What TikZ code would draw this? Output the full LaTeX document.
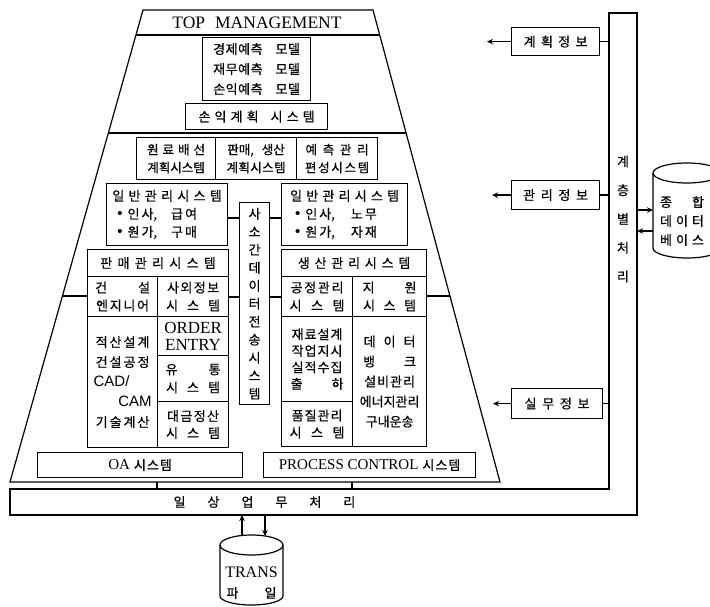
\documentclass[tikz,border=0pt]{standalone}
\usepackage{fontspec}
\setmainfont{Noto Sans CJK KR}[BoldFont=Noto Sans CJK KR, BoldFeatures={FakeBold=0.6}]
\newfontfamily\lat{Liberation Serif}
\newfontfamily\latsans{Liberation Sans}
\usetikzlibrary{arrows.meta,calc}
\newdimen\KRsp \KRsp=1pt
\newcommand\Ks[1]{\KRsp=#1pt\relax}
\newcommand\Bul{{\latsans\mdseries\fontsize{15}{15}\selectfont •}}
\XeTeXinterchartokenstate=1
\chardef\krclass=7
\newcount\KRcnt \KRcnt="AC00
\loop \XeTeXcharclass\KRcnt=\krclass \advance\KRcnt by 1 \ifnum\KRcnt<"D7A4 \repeat
\XeTeXinterchartoks\krclass\krclass={\hskip\KRsp\relax}
\tikzset{
  bxs/.style={draw, line width=1.2pt, inner sep=0pt, anchor=north west, align=center,
              font=\fontsize{13}{18}\selectfont\bfseries},
  ln/.style={line width=1.2pt},
  arr/.style={line width=1.2pt, -{Stealth[length=6pt,width=5.5pt]}},
}
\newcommand\bx[7][]{\node[bxs,minimum width={#5-#3},minimum height={#6-#4},#1] (#2) at (#3,#4) {#7};}
\begin{document}
\begin{tikzpicture}[x=1pt,y=-1pt]
\useasboundingbox (0,0) rectangle (710,607);
% trapezoid
\coordinate (TL) at (143,10);
\coordinate (TR) at (373,10);
\coordinate (BL) at (10,482);
\coordinate (BR) at (500,482);
\draw[ln] (TL) -- (TR) -- (BR) -- (BL) -- cycle;
\draw[ln] ($(TL)!{25/472}!(BL)$) -- ($(TR)!{25/472}!(BR)$);
\draw[ln] ($(TL)!{123/472}!(BL)$) -- ($(TR)!{123/472}!(BR)$);
\coordinate (L296) at ($(TL)!{286/472}!(BL)$);
\coordinate (R296) at ($(TR)!{286/472}!(BR)$);
\node[font=\lat\fontsize{17.5}{18}\selectfont] (top) at (257,23) {TOP\hspace{10pt}MANAGEMENT};
% boxes
\bx[font=\fontsize{13}{20}\selectfont\bfseries]{econ}{202}{37}{310}{100}{\Ks{0.5}경제예측\hspace{13pt}모델\\ \Ks{0.5}재무예측\hspace{13pt}모델\\ \Ks{0.5}손익예측\hspace{13pt}모델}
\bx{sonik}{185}{103}{327}{129}{\Ks{4.1}손익계획\hspace{12pt}시스템}
\bx[font=\fontsize{12.5}{18}\selectfont\bfseries]{ra}{136}{137}{215}{179}{\Ks{4}원료배선\\ \Ks{0}계획시스템}
\bx[font=\fontsize{12.5}{18}\selectfont\bfseries]{rb}{215}{137}{296}{179}{\Ks{0}판매,\hspace{8pt}생산\\ \Ks{0.4}계획시스템}
\bx[font=\fontsize{12.5}{18}\selectfont\bfseries]{rc}{296}{137}{377}{179}{\Ks{5.7}예측관리\\ \Ks{1.7}편성시스템}
\bx[align=left]{genL}{106}{183}{227}{245}{\Ks{4.3}일반관리시스템\\ \hspace*{5pt}\Bul\hspace{5pt}\Ks{2}인사,\hspace{14pt}급여\\ \hspace*{5pt}\Bul\hspace{5pt}\Ks{2}원가,\hspace{14pt}구매}
\bx[align=left]{genR}{281}{183}{407}{245}{\Ks{4.2}일반관리시스템\\ \hspace*{5pt}\Bul\hspace{5pt}\Ks{2}인사,\hspace{16pt}노무\\ \hspace*{5pt}\Bul\hspace{5pt}\Ks{2}원가,\hspace{16pt}자재}
\bx{vt}{239}{202}{269}{404}{사\\소\\간\\데\\이\\터\\전\\송\\시\\스\\템}
\bx{salesH}{87}{249}{228}{276}{\Ks{5.3}판매관리시스템}
\bx{prodH}{281}{249}{426}{276}{\Ks{4.8}생산관리시스템}
\bx{geon}{87}{276}{157}{316}{\Ks{31}건설\\ \Ks{1.7}엔지니어}
\bx[font=\fontsize{13}{20}\selectfont\bfseries]{jeok}{87}{316}{157}{447}{\Ks{2}적산설계\\ \Ks{2}건설공정\\ \makebox[58pt][l]{\latsans\mdseries\fontsize{15}{20}\selectfont CAD/}\\ \makebox[58pt][r]{\latsans\mdseries\fontsize{15}{20}\selectfont CAM}\\ \Ks{2}기술계산}
\bx{oi}{157}{276}{228}{316}{\Ks{1.4}사외정보\\ \Ks{9}시스템}
\bx[font=\lat\fontsize{17}{17}\selectfont]{order}{157}{316}{228}{355}{ORDER\\ENTRY}
\bx{yu}{157}{355}{228}{401}{\Ks{31}유통\\ \Ks{9}시스템}
\bx[font=\fontsize{13}{17}\selectfont\bfseries]{dg}{157}{401}{228}{447}{\Ks{1.4}대금정산\\ \Ks{9}시스템}
\bx{gj}{281}{276}{352}{316}{\Ks{1.7}공정관리\\ \Ks{9.5}시스템}
\bx{jw}{352}{276}{426}{316}{\Ks{30}지원\\ \Ks{8.5}시스템}
\bx[font=\fontsize{13}{16.5}\selectfont\bfseries]{jr}{281}{316}{352}{401}{\Ks{1}재료설계\\ \Ks{1}작업지시\\ \Ks{1}실적수집\\ \Ks{29}출하}
\bx[font=\fontsize{13}{17}\selectfont\bfseries]{pq}{281}{401}{352}{446}{\Ks{1}품질관리\\ \Ks{9.5}시스템}
\bx[font=\fontsize{13}{20}\selectfont\bfseries]{dbk}{352}{316}{426}{446}{\Ks{8}데이터\\ \Ks{29}뱅크\\ \Ks{1}설비관리\\ \Ks{0}에너지관리\\ \Ks{0}구내운송}
\bx{oa}{37}{452}{242}{477}{{\lat\mdseries\fontsize{15}{15}\selectfont OA\hspace{4pt}}\Ks{1}시스템}
\bx{pc}{263}{452}{475}{477}{{\lat\mdseries\fontsize{15}{15}\selectfont PROCESS CONTROL\hspace{4pt}}\Ks{1}시스템}
% inner connectors
\coordinate (c1) at (0,218);
\coordinate (c2) at (0,297);
\draw[ln] (genL.east|-c1) -- (vt.west|-c1);
\draw[ln] (vt.east|-c1) -- (genR.west|-c1);
\draw[ln] (oi.east|-c2) -- (vt.west|-c2);
\draw[ln] (vt.east|-c2) -- (gj.west|-c2);
\draw[ln] (L296) -- (L296 -| geon.west);
\draw[ln] (R296) -- (R296 -| jw.east);
% L-shaped bar
\coordinate (vL) at (609,13);
\coordinate (vR) at (637,13);
\coordinate (hT) at (10,489);
\coordinate (hB) at (10,515);
\draw[ln] (hT) -- (vL|-hT) -- (vL) -- (vR) -- (vR|-hB) -- (hB) -- cycle;
\node[font=\fontsize{13}{18}\selectfont\bfseries] (daily) at (264.5,502) {\Ks{22}일상업무처리};
\node[font=\fontsize{13}{28.75}\selectfont\bfseries, align=center] (layer) at (623,219) {계\\층\\별\\처\\리};
\coordinate (k1) at (157,482);
\coordinate (k2) at (352,482);
\draw[ln] (k1) -- (k1|-hT);
\draw[ln] (k2) -- (k2|-hT);
% right info boxes
\bx{kp}{511}{27}{599}{55}{\Ks{5.3}계획정보}
\bx{mg}{511}{180}{599}{209}{\Ks{5.7}관리정보}
\bx{sm}{511}{388}{602}{418}{\Ks{5.7}실무정보}
\draw[ln] (kp.east) -- (kp.east-|vL);
\draw[ln] (mg.east) -- (mg.east-|vL);
\draw[ln] (sm.east) -- (sm.east-|vL);
\draw[arr] (kp.west) -- ++(-24,0);
\draw[arr] (mg.west) -- ++(-19,0);
\draw[arr] (sm.west) -- ++(-18,0);
% integrated database
\draw[ln] (687,173) ellipse[x radius=34,y radius=10];
\draw[ln] (653,173) -- (653,248) arc[start angle=180,end angle=0,x radius=34,y radius=10] -- (721,173);
\coordinate (dbL) at (653,210);
\node[font=\fontsize{13}{19}\selectfont\bfseries, align=center] (db) at (682,221) {\Ks{20}종합\\ \Ks{4}데이터\\ \Ks{4}베이스};
\coordinate (d1) at (0,210);
\coordinate (d2) at (0,231);
\draw[arr] (vR|-d1) -- (dbL|-d1);
\draw[arr] (dbL|-d2) -- (vR|-d2);
% TRANS file
\draw[ln] (251.5,545) ellipse[x radius=31.5,y radius=10];
\draw[ln] (220,545) -- (220,596) arc[start angle=180,end angle=0,x radius=31.5,y radius=9] -- (283,545);
\node[font=\fontsize{13}{20}\selectfont\bfseries, align=center] (trans) at (251.5,583) {{\lat\mdseries\fontsize{16}{20}\selectfont TRANS}\\ \Ks{26}파일};
\coordinate (t1) at (242,536);
\coordinate (t2) at (265,536);
\draw[arr] (t1) -- (t1|-hB);
\draw[arr] (t2|-hB) -- (t2);
\end{tikzpicture}
\end{document}
